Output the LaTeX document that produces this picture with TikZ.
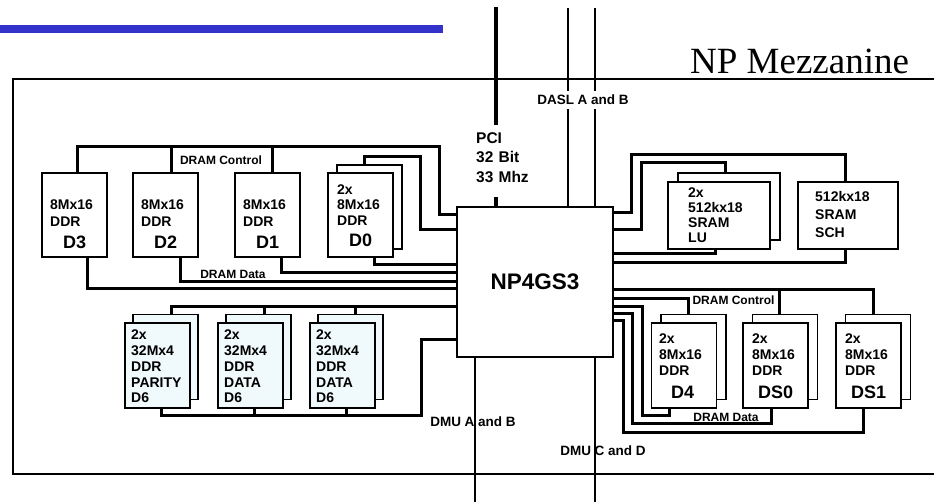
\documentclass[tikz,border=0pt]{standalone}
\usepackage{fontspec}
\setmainfont{Liberation Sans}
\newfontfamily\npserif{Liberation Serif}
\definecolor{slideBlue}{HTML}{3333CC}
\definecolor{ddrPale}{HTML}{F0F9FC}
\newcommand\devlabel[1]{\makebox[\linewidth]{\fontsize{18}{18}\selectfont #1}}

\begin{document}
\begin{tikzpicture}[x=1pt, y=-1pt,
    mem/.style={draw, fill=white, line width=1.3pt, minimum width=65pt, minimum height=85pt, inner sep=0pt},
    memtxt/.style={anchor=base west, align=left, inner sep=0pt, text width=49pt, font=\fontsize{14}{16}\selectfont\bfseries},
    bus/.style={line width=3pt},
    link/.style={line width=2.5pt},
    lbl/.style={inner sep=1pt, font=\fontsize{12}{12}\selectfont\bfseries}]
  \useasboundingbox (0,0) rectangle (934,502);
  \fill[slideBlue] (0,25) rectangle (443,33);
  \draw[line width=2pt] (934,79) -- (13,79) -- (13,474) -- (934,474);
  \node[anchor=base west, inner sep=0pt, font=\npserif\fontsize{37}{37}\selectfont] (title) at (690,74) {NP Mezzanine};

  % processor
  \node[draw, fill=white, line width=1.5pt, minimum width=156pt, minimum height=150pt,
        font=\fontsize{22.5}{22.5}\selectfont\bfseries] (np) at (535,282) {NP4GS3};

  % buses leaving the card
  \coordinate (pciTop) at (496,7);
  \coordinate (pciCut) at (496,125);
  \coordinate (pciStub) at (496,197);
  \coordinate (daslA) at (568,8);
  \coordinate (daslB) at (595,8);
  \coordinate (dmuA) at (475,502);
  \coordinate (dmuC) at (595,502);
  \draw[line width=4pt] (pciTop) -- (pciCut);
  \draw[line width=4pt] (pciStub) -- (np.north -| pciStub);
  \draw[link] (daslA) -- (np.north -| daslA);
  \draw[link] (daslB) -- (np.north -| daslB);
  \draw[link] (np.south -| dmuA) -- (dmuA);
  \draw[link] (np.south -| dmuC) -- (dmuC);
  \node[lbl, fill=white, inner ysep=4pt, font=\fontsize{13.5}{13.5}\selectfont\bfseries] (dasl) at (583,100) {DASL A and B};
  \node[lbl, font=\fontsize{13.5}{13.5}\selectfont\bfseries] (dmuab) at (473,422) {DMU A and B};
  \node[lbl, font=\fontsize{13.5}{13.5}\selectfont\bfseries] (dmucd) at (603,451) {DMU C and D};
  \node[memtxt, text width=60pt, font=\fontsize{15.5}{19.5}\selectfont\bfseries] (pci) at (476,143.5) {PCI\\32 Bit\\33 Mhz};

  % DDR, upper left
  \node[mem, minimum height=84pt] (d3) at (74.5,215) {};
  \node[mem, minimum height=84pt] (d2) at (165.5,215) {};
  \node[mem, minimum height=84pt] (d1) at (267.5,215) {};
  \node[mem, minimum height=84pt] (d0b) at (369.5,207) {};
  \node[mem, minimum height=84pt] (d0) at (360.5,215) {};
  \node[memtxt, font=\fontsize{14}{17}\selectfont\bfseries] (d3t) at (50,210) {8Mx16\\DDR\\[4.5pt]\devlabel{D3}};
  \node[memtxt, font=\fontsize{14}{17}\selectfont\bfseries] (d2t) at (141,210) {8Mx16\\DDR\\[4.5pt]\devlabel{D2}};
  \node[memtxt, font=\fontsize{14}{17}\selectfont\bfseries] (d1t) at (243,210) {8Mx16\\DDR\\[4.5pt]\devlabel{D1}};
  \node[memtxt, text width=47pt] (d0t) at (337,195) {2x\\[-1pt]8Mx16\\DDR\\[5pt]\devlabel{D0}};

  % DDR parity and data, lower left
  \node[mem, fill=ddrPale] (d6pb) at (165.5,357) {};
  \node[mem, fill=ddrPale] (d6p) at (157.5,365.5) {};
  \node[mem, fill=ddrPale] (d6ab) at (258.5,357) {};
  \node[mem, fill=ddrPale] (d6a) at (250.5,365.5) {};
  \node[mem, fill=ddrPale] (d6bb) at (350.5,357) {};
  \node[mem, fill=ddrPale] (d6b) at (342.5,365.5) {};
  \node[memtxt, text width=56pt, font=\fontsize{14}{15.7}\selectfont\bfseries] (d6pt) at (131,340) {2x\\32Mx4\\DDR\\PARITY\\D6};
  \node[memtxt, text width=56pt, font=\fontsize{14}{15.7}\selectfont\bfseries] (d6at) at (224,340) {2x\\32Mx4\\DDR\\DATA\\D6};
  \node[memtxt, text width=56pt, font=\fontsize{14}{15.7}\selectfont\bfseries] (d6bt) at (316,340) {2x\\32Mx4\\DDR\\DATA\\D6};

  % SRAM, upper right
  \node[mem, minimum width=102pt, minimum height=67pt] (lub) at (729,206.5) {};
  \node[mem, minimum width=102pt, minimum height=67pt] (lu) at (719,215.5) {};
  \node[mem, minimum width=100pt, minimum height=67pt] (sch) at (848,215.5) {};
  \node[memtxt, text width=70pt, font=\fontsize{14}{15}\selectfont\bfseries] (lut) at (688,198) {2x\\512kx18\\SRAM\\LU};
  \node[memtxt, text width=70pt, font=\fontsize{14}{18}\selectfont\bfseries] (scht) at (815,202) {512kx18\\SRAM\\SCH};

  % DDR, lower right
  \node[mem] (d4b) at (693.5,357) {};
  \node[mem] (d4) at (684,365.5) {};
  \node[mem] (ds0b) at (785,357) {};
  \node[mem] (ds0) at (775.5,365.5) {};
  \node[mem] (ds1b) at (878,357) {};
  \node[mem] (ds1) at (868.5,365.5) {};
  \node[memtxt, text width=47pt] (d4t) at (659,344) {2x\\8Mx16\\DDR\\[7pt]\devlabel{D4}};
  \node[memtxt, text width=47pt] (ds0t) at (752,344) {2x\\8Mx16\\DDR\\[7pt]\devlabel{DS0}};
  \node[memtxt, text width=47pt] (ds1t) at (845,344) {2x\\8Mx16\\DDR\\[7pt]\devlabel{DS1}};

  % DRAM control and data, left
  \coordinate (ctlW) at (439,147);
  \coordinate (dataSW) at (421,415);
  \draw[bus] (np.west |- 0,215) -| (ctlW) -| (d3.north -| 77,0);
  \draw[bus] (d2.north -| 171,0) |- (ctlW);
  \draw[bus] (d1.north -| 272,0) |- (ctlW);
  \draw[bus] (np.west |- 0,230) -| (420,157) -| (d0b.north -| 364,0);
  \draw[bus] (np.west |- 0,265) -| (d0.south -| 374,0);
  \draw[bus] (np.west |- 0,273) -| (d1.south -| 281,0);
  \draw[bus] (np.west |- 0,282) -| (d2.south -| 180,0);
  \draw[bus] (np.west |- 0,289) -| (d3.south -| 87,0);
  \draw[bus] (np.west |- 0,307) -| (d6pb.north -| 171,0);
  \draw[bus] (d6ab.north -| 264,0) |- (np.west |- 0,307);
  \draw[bus] (d6bb.north -| 355,0) |- (np.west |- 0,307);
  \draw[bus] (np.west |- 0,340) -| (dataSW) -| (d6p.south -| 161,0);
  \draw[bus] (d6a.south -| 254,0) |- (dataSW);
  \draw[bus] (d6b.south -| 346,0) |- (dataSW);
  \node[lbl] (ctlWlbl) at (221,160) {DRAM Control};
  \node[lbl] (dataWlbl) at (233,274) {DRAM Data};

  % SRAM and DRAM, right
  \draw[bus] (np.east |- 0,213) -| (631,155) -| (sch.north -| 845,0);
  \draw[bus] (np.east |- 0,230) -| (641,163) -| (lub.north -| 725,0);
  \draw[bus] (np.east |- 0,254) -| (lu.south -| 715,0);
  \draw[bus] (np.east |- 0,263) -| (sch.south -| 845,0);
  \draw[bus] (np.east |- 0,290) -| (ds1b.north -| 873,0);
  \draw[bus] (ds0b.north -| 779,0) |- (np.east |- 0,290);
  \draw[bus] (np.east |- 0,299) -| (d4b.north -| 688,0);
  \draw[bus] (np.east |- 0,307) -| (642,415) -| (d4.south -| 669,0);
  \draw[bus] (np.east |- 0,314) -| (632,423) -| (ds0.south -| 771,0);
  \draw[bus] (np.east |- 0,321) -| (623,432) -| (ds1.south -| 863,0);
  \node[lbl] (ctlElbl) at (733.5,300) {DRAM Control};
  \node[lbl] (dataElbl) at (726,417) {DRAM Data};
\end{tikzpicture}
\end{document}
